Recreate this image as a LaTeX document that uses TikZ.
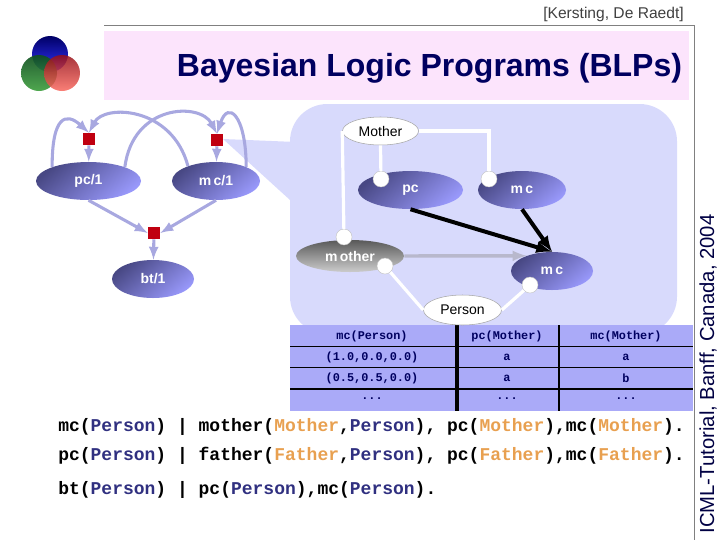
\documentclass[tikz,border=0pt]{standalone}
\usepackage{fontspec}
\setmainfont{Liberation Sans}
\setmonofont{Liberation Mono}
\usepackage{tikz}
\usetikzlibrary{shapes.geometric}

\definecolor{blobcol}{RGB}{216,218,252}
\definecolor{tablecol}{RGB}{170,170,248}
\definecolor{edgecol}{RGB}{168,168,224}
\definecolor{boxred}{RGB}{192,0,16}
\definecolor{titlecol}{RGB}{0,0,96}
\definecolor{varblue}{RGB}{48,48,128}
\definecolor{varorange}{RGB}{232,160,80}
\definecolor{nodedark}{RGB}{72,72,132}
\definecolor{nodelight}{RGB}{152,152,250}
\definecolor{greenTop}{RGB}{16,80,32}
\definecolor{greenBot}{RGB}{64,160,64}
\definecolor{redTop}{RGB}{150,16,24}
\definecolor{redBot}{RGB}{250,105,95}
\definecolor{greyarrow}{RGB}{184,184,204}

\newcommand{\pvar}[1]{\textcolor{varblue}{#1}}
\newcommand{\mvar}[1]{\textcolor{varorange}{#1}}

\tikzset{
	blpnode/.style={ellipse,inner sep=0pt,text=white,font=\bfseries\fontsize{10.5}{12}\selectfont,
		top color=nodedark,bottom color=nodelight,shading angle=40},
	greynode/.style={blpnode,top color=black!65,bottom color=black!20},
	varnode/.style={ellipse,inner sep=0pt,draw=black!35,fill=white,line width=0.4pt,font=\fontsize{10.5}{12}\selectfont},
	portnode/.style={circle,inner sep=0pt,minimum size=12pt,draw=black!25,line width=0.3pt,fill=white},
	redbox/.style={rectangle,inner sep=0pt,minimum size=9pt,fill=boxred},
	depline/.style={edgecol,line width=2.3pt,-latex},
	whiteline/.style={white,line width=2.4pt},
	blackdep/.style={black,line width=3pt,-latex},
	tabletext/.style={font=\ttfamily\bfseries\fontsize{8.9}{10}\selectfont,text=titlecol,inner sep=0pt},
	codetext/.style={anchor=west,inner sep=0pt,font=\ttfamily\bfseries\fontsize{13.5}{16}\selectfont},
}

\begin{document}
\begin{tikzpicture}[x=0.75pt,y=0.75pt,yscale=-1]
	\useasboundingbox (0,0) rectangle (720,540);
	
	%Frame lines
	\draw [black!50,line width=0.6pt] (104,25) -- (694,25) -- (694,540);
	%Title band
	\fill [color={rgb, 255:red, 252; green, 228; blue, 252 }] (104,31) rectangle (689,100);
	
	%Logo
	\shade [top color=black!60!blue,bottom color=blue!80] (50,54) circle (18);
	\shade [top color=greenTop,bottom color=greenBot,opacity=0.92] (39,73) circle (18);
	\shade [top color=redTop,bottom color=redBot,opacity=0.85] (62,73) circle (18);
	
	%Shape: Blob with callout
	\fill [blobcol,rounded corners=28pt] (290,104) rectangle (677,334);
	\fill [blobcol] (223,139) -- (296,142) -- (296,200) -- (290,200) -- cycle;
	
	%Table
	\fill [tablecol] (290,325) rectangle (693,411);
	\draw [line width=1.3pt] (290,346.5) -- (693,346.5) (290,367.5) -- (693,367.5) (290,389) -- (693,389);
	\draw [line width=2.6pt] (457,325) -- (457,411);
	\draw [line width=1.5pt] (558.5,325) -- (558.5,411);
	
	% Text Node
	\node [tabletext] (t11) at (372,336.5) {mc(Person)};
	\node [tabletext] (t12) at (507,336.5) {pc(Mother)};
	\node [tabletext] (t13) at (626,336.5) {mc(Mother)};
	\node [tabletext] (t21) at (372,357.5) {(1.0,0.0,0.0)};
	\node [tabletext] (t22) at (507,357.5) {a};
	\node [tabletext] (t23) at (626,357.5) {a};
	\node [tabletext] (t31) at (372,378.5) {(0.5,0.5,0.0)};
	\node [tabletext] (t32) at (507,378.5) {a};
	\node [tabletext] (t33) at (626,378.5) {b};
	\node [tabletext] (t41) at (372,399) {...};
	\node [tabletext] (t42) at (507,399) {...};
	\node [tabletext] (t43) at (626,399) {...};
	
	%Left graph
	\node [blpnode,minimum width=78.75pt,minimum height=28.5pt] (pcone) at (88.5,181) {pc/1};
	\node [blpnode,minimum width=66pt,minimum height=28.5pt] (mcone) at (216,181) {m\,c/1};
	\node [blpnode,minimum width=61.5pt,minimum height=28.5pt] (btone) at (153,279) {bt/1};
	\node [redbox] (pcbox) at (89,139) {};
	\node [redbox] (mcbox) at (217,140) {};
	\node [redbox] (btbox) at (154,233) {};
	
	\draw [depline] (pcbox) -- (pcone);
	\draw [depline] (mcbox) -- (mcone);
	\draw [depline] (btbox) -- (btone);
	\draw [depline] (pcone.south) -- (btbox.west);
	\draw [depline] (mcone.south) -- (btbox.east);
	\draw [depline] (pcone.159) .. controls (52,116) and (66,112) .. (pcbox.north);
	\draw [depline] (mcone.152) .. controls (172,106) and (104,104) .. (pcbox.north);
	\draw [depline] (pcone.21) .. controls (133,104) and (200,102) .. (mcbox.north);
	\draw [depline] (mcone.25) .. controls (246,115) and (228,100) .. (mcbox.north);
	
	%Right graph
	\node [varnode,minimum width=57pt,minimum height=21pt] (mother) at (380.5,131) {Mother};
	\node [varnode,minimum width=58.5pt,minimum height=22.5pt] (person) at (462.5,310) {Person};
	\node [blpnode,minimum width=78.75pt,minimum height=28.5pt] (pcnode) at (410.5,190) {pc};
	\node [blpnode,minimum width=66pt,minimum height=28.5pt] (mcnode) at (522,190) {m\,c};
	\node [greynode,minimum width=81pt,minimum height=24pt] (mothernode) at (350,256) {m\,other};
	\node [blpnode,minimum width=61.5pt,minimum height=28.5pt] (mcchild) at (552,271) {m\,c};
	\node [portnode] (pcport) at (381,179) {};
	\node [portnode] (mcport) at (489,179) {};
	\node [portnode] (motherporta) at (344,237) {};
	\node [portnode] (motherportb) at (385,266) {};
	\node [portnode] (childport) at (530,285) {};
	\coordinate (motherright) at (489,131);
	
	\draw [whiteline] (mother.west) -- (motherporta);
	\draw [whiteline] (mother.south) -- (pcport);
	\draw [whiteline] (mother.east) -- (motherright) -- (mcport);
	\draw [whiteline] (motherportb) -- (person.west);
	\draw [whiteline] (person.east) -- (childport);
	\draw [greyarrow,line width=2.6pt,-latex] (mothernode.east) -- (mcchild.149);
	\draw [blackdep] (pcnode.south) -- (mcchild.north);
	\draw [blackdep] (mcnode.south) -- (mcchild.north);
	
	% Text Node
	\node [font=\bfseries\fontsize{24}{28}\selectfont,text=titlecol,inner sep=0pt] (title) at (429.5,68) {Bayesian Logic Programs (BLPs)};
	\node [font=\fontsize{11.7}{13}\selectfont,text=black!75,inner sep=0pt] (authors) at (613.5,14) {[Kersting, De Raedt]};
	\node [font=\fontsize{15.2}{17}\selectfont,text=titlecol!70!black,inner sep=0pt,rotate=90] (venue) at (708,374) {ICML-Tutorial, Banff, Canada, 2004};
	
	% Code lines
	\node [codetext] (lineone) at (58,427) {mc(\pvar{Person}) | mother(\mvar{Mother},\pvar{Person}), pc(\mvar{Mother}),mc(\mvar{Mother}).};
	\node [codetext] (linetwo) at (58,456) {pc(\pvar{Person}) | father(\mvar{Father},\pvar{Person}), pc(\mvar{Father}),mc(\mvar{Father}).};
	\node [codetext] (linethree) at (58,490) {bt(\pvar{Person}) | pc(\pvar{Person}),mc(\pvar{Person}).};
\end{tikzpicture}
\end{document}
